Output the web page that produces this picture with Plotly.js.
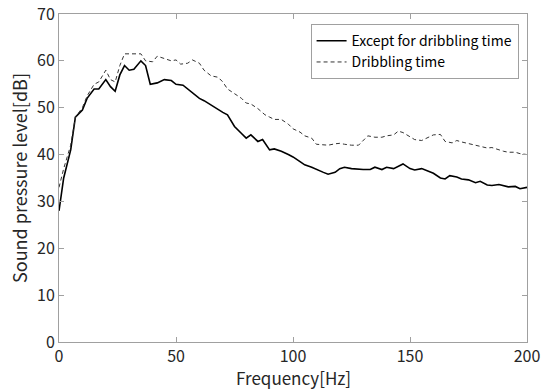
<!DOCTYPE html>
<html><head><meta charset="utf-8">
<script src="https://cdn.plot.ly/plotly-3.0.1.min.js"></script>
<style>html,body{margin:0;padding:0;background:#fff}#c{width:551px;height:389px}</style>
</head><body><div id="c"></div>
<script>
const freqA = [0,2,5,7,10,12,15,17,20,22,24,26,28,30,32,35,37,39,42,45,48,50,53,55,58,60,62,65,68,70,72,75,78,80,82,85,87,90,92,95,98,100,103,105,108,110,113,115,118,120,122,125,128,130,133,135,138,140,143,145,147,150,152,155,158,160,163,165,167,170,172,175,178,180,183,185,188,190,192,195,197,200];
const exceptDribbling = [28,35,41,48,49.5,52,54,54,56,54.5,53.5,57,59,58,58.2,60,59,55,55.3,56,55.8,55,54.8,54,52.8,52,51.5,50.5,49.5,49,48.5,46,44.5,43.5,44.2,42.8,43.2,41,41.2,40.7,40,39.5,38.5,37.8,37.3,36.8,36.2,35.8,36.2,37,37.3,37,36.8,36.8,36.8,37.3,36.8,37.3,37,37.5,38,37,36.7,37,36.5,36,35,34.8,35.5,35.2,34.8,34.6,34,34.3,33.5,33.4,33.6,33.4,33.1,33.2,32.7,33];
const freqB = [0,2,5,7,10,12,15,17,20,22,24,26,28,32,35,37,40,42,45,48,50,52,55,57,60,62,65,68,70,72,75,78,80,82,85,88,90,92,95,98,100,103,105,108,110,113,115,118,120,122,125,128,130,132,135,138,140,143,145,147,150,152,155,158,160,163,165,168,170,172,175,178,180,183,185,188,190,192,195,197,200];
const dribbling = [33,37,42,48,50,52.5,55,55.5,58,56,55.5,59,61.5,61.5,61.5,60,59.8,61,60.5,60,60.2,59.3,59.5,60.2,59.5,58,56.8,56.5,55.5,54,53,52,51,50.8,49.8,48.5,48,47.5,47.5,46.5,45.5,44.8,44,43.5,42.2,42,42,42.3,42.4,42.2,42,42,43,44,43.7,43.7,44,44.2,45,44.7,43.8,43.2,43,43.7,44.2,44.3,42.8,42.5,43,42.7,42.3,42,41.8,41.4,41.5,41,40.7,40.5,40.5,40.2,40];
const xTicks = [0,50,100,150,200];
const yTicks = [0,10,20,30,40,50,60,70];
const seriesNames = ['Except for dribbling time','Dribbling time'];
const xTitle = 'Frequency[Hz]';
const yTitle = 'Sound pressure level[dB]';

const fontFam = '"Noto Sans CJK JP", "DejaVu Sans", sans-serif';
const traces = [
  {x: freqA, y: exceptDribbling, name: seriesNames[0], type: 'scatter', mode: 'lines',
   line: {color: '#000000', width: 1.6}},
  {x: freqB, y: dribbling, name: seriesNames[1], type: 'scatter', mode: 'lines',
   line: {color: '#333333', width: 1, dash: '4px,3px'}}
];
const axisCommon = {
  showline: true, mirror: 'ticks', linecolor: '#a0a0a0', linewidth: 1,
  ticks: 'inside', ticklen: 5, tickcolor: '#a0a0a0', showgrid: false, zeroline: false,
  tickfont: {family: fontFam, size: 16, color: '#262626'}
};
const layout = {
  width: 551, height: 389,
  margin: {l: 59, r: 24, t: 14, b: 47},
  paper_bgcolor: '#fff', plot_bgcolor: '#fff',
  font: {family: fontFam, color: '#262626'},
  showlegend: true,
  legend: {x: 0.982, y: 0.969, xanchor: 'right', yanchor: 'top',
    bordercolor: '#a0a0a0', borderwidth: 1, bgcolor: '#fff',
    font: {family: fontFam, size: 14, color: '#000'},
    tracegroupgap: 0, itemwidth: 30},
  xaxis: Object.assign({}, axisCommon, {range: [0, 200], tickvals: xTicks, automargin: false}),
  yaxis: Object.assign({}, axisCommon, {range: [0, 70], tickvals: yTicks, automargin: false,
    title: {text: yTitle, font: {family: fontFam, size: 18, color: '#262626'}, standoff: 4}}),
  annotations: [{text: xTitle, xref: 'paper', yref: 'paper', x: 0.5, y: 0,
    xanchor: 'center', yanchor: 'top', yshift: -22, showarrow: false, borderpad: 0,
    font: {family: fontFam, size: 17, color: '#262626'}}]
};
Plotly.newPlot('c', traces, layout, {displayModeBar: false, staticPlot: true});
</script></body></html>
